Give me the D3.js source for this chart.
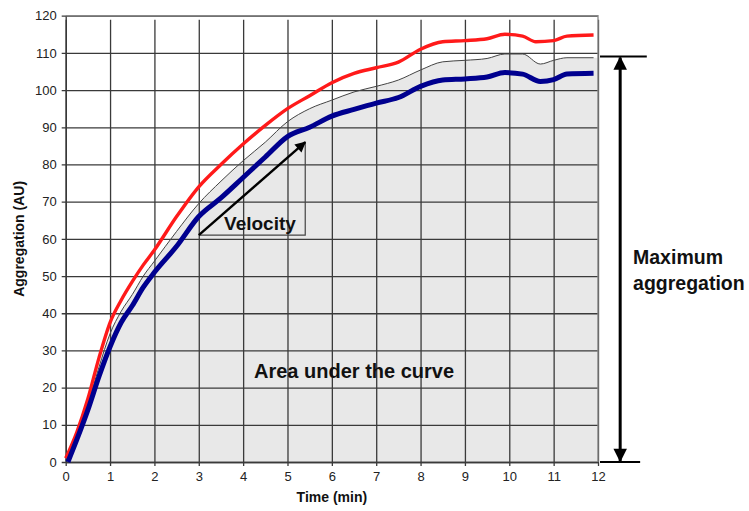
<!DOCTYPE html>
<html>
<head>
<meta charset="utf-8">
<script src="https://cdn.jsdelivr.net/npm/d3@7"></script>
<style>
  body { margin: 0; background: #fff; }
  text { font-family: "Liberation Sans", Arial, sans-serif; }
</style>
</head>
<body>
<div id="chart"></div>
<script>
// --- data (time in min, aggregation in AU) ---
const redTime = [0, 0.25, 0.5, 0.75, 1, 1.25, 1.5, 1.75, 2, 2.5, 3, 3.5, 4, 4.5, 5, 5.5, 6, 6.5, 7, 7.5, 8, 8.5, 9, 9.5, 9.9, 10.3, 10.6, 11, 11.3, 11.9];
const redAgg  = [1, 8, 17, 28, 37.5, 43.5, 48.5, 53, 57, 66, 74, 80, 85.5, 90.5, 95, 98.5, 102, 104.5, 106, 107.5, 111, 113, 113.3, 113.8, 115, 114.5, 113, 113.3, 114.5, 114.8];

const blueTime = [0.05, 0.25, 0.5, 0.75, 1, 1.25, 1.5, 1.75, 2, 2.5, 3, 3.5, 4, 4.5, 5, 5.5, 6, 6.5, 7, 7.5, 8, 8.5, 9, 9.5, 9.9, 10.3, 10.7, 11, 11.3, 11.9];
const blueAgg  = [0, 6, 14, 23, 31, 37.5, 42, 47, 51, 58, 66, 71, 76.5, 82, 87.5, 90, 93, 94.8, 96.5, 98, 101, 102.7, 103, 103.5, 104.7, 104.3, 102.3, 102.8, 104.3, 104.5];

const meanTime = [0, 0.25, 0.5, 0.75, 1, 1.25, 1.5, 1.75, 2, 2.5, 3, 3.5, 4, 4.5, 5, 5.5, 6, 6.5, 7, 7.5, 8, 8.5, 9, 9.5, 9.9, 10.3, 10.7, 11, 11.3, 11.9];
const meanAgg  = [0.5, 7, 15.5, 25.5, 34.5, 40.5, 45, 50, 54, 62, 69.5, 75.5, 81, 86, 91.5, 95, 97.3, 99.5, 101, 102.7, 105.4, 107.6, 108, 108.5, 109.7, 109.7, 107, 108, 108.7, 108.7];

const xTicks = [0, 1, 2, 3, 4, 5, 6, 7, 8, 9, 10, 11, 12];
const yTicks = [0, 10, 20, 30, 40, 50, 60, 70, 80, 90, 100, 110, 120];

const velocityStart = [3, 61];
const velocityEnd = [5.4, 86];
const maxAgg = 109;
const maxArrowTime = 12.5;

// --- layout ---
const width = 749, height = 511;
const margin = { left: 65.7, right: 151, top: 15.7, bottom: 49 };

const svg = d3.select("#chart").append("svg")
    .attr("width", width)
    .attr("height", height);

svg.append("rect").attr("width", width).attr("height", height).attr("fill", "#fff");

const x = d3.scaleLinear().domain([0, 12]).range([margin.left, width - margin.right]);
const y = d3.scaleLinear().domain([0, 120]).range([height - margin.bottom, margin.top]);

const toPts = (ts, vs) => ts.map((t, i) => [t, vs[i]]);
const red = toPts(redTime, redAgg);
const blue = toPts(blueTime, blueAgg);
const mean = toPts(meanTime, meanAgg);

// area under mean curve
const area = d3.area().curve(d3.curveMonotoneX).x(d => x(d[0])).y0(y(0)).y1(d => y(d[1]));
svg.append("path")
    .datum([...mean, [12, meanAgg[meanAgg.length - 1]]])
    .attr("d", area)
    .attr("fill", "#e8e8e8");

// grid via axes
const gx = svg.append("g")
    .attr("transform", `translate(0,${y(0)})`)
    .call(d3.axisBottom(x).tickValues(xTicks).tickSize(-(y(0) - y(120))).tickSizeOuter(0).tickPadding(10));
gx.selectAll(".tick line").attr("stroke", "#3a3a3a").attr("stroke-width", 1.3).attr("y2", 4 - (y(0) - y(120))).attr("y1", 4);
gx.select(".domain").attr("stroke", "#333").attr("stroke-width", 1.3);

const gy = svg.append("g")
    .attr("transform", `translate(${x(0)},0)`)
    .call(d3.axisLeft(y).tickValues(yTicks).tickSize(-(x(12) - x(0))).tickSizeOuter(0).tickPadding(9));
gy.selectAll(".tick line").attr("stroke", "#3a3a3a").attr("stroke-width", 1.3).attr("x1", -4);
gy.select(".domain").attr("stroke", "#333").attr("stroke-width", 1.3);

svg.selectAll(".tick text")
    .attr("font-family", "'Liberation Sans', Arial, sans-serif")
    .attr("font-size", 13)
    .attr("fill", "#222");

// outer plot border (top, right)
svg.append("path")
    .attr("d", `M${x(0)},${y(120)}H${x(12)}V${y(0)}`)
    .attr("fill", "none")
    .attr("stroke", "#888")
    .attr("stroke-width", 1.3);

// lines
const line = d3.line().curve(d3.curveMonotoneX).x(d => x(d[0])).y(d => y(d[1]));
svg.append("path").datum(mean).attr("d", line)
    .attr("fill", "none").attr("stroke", "#444").attr("stroke-width", 1);
svg.append("path").datum(red).attr("d", line)
    .attr("fill", "none").attr("stroke", "#ff1a1a").attr("stroke-width", 3.4).attr("stroke-linejoin", "round");
svg.append("path").datum(blue).attr("d", line)
    .attr("fill", "none").attr("stroke", "#00008f").attr("stroke-width", 5).attr("stroke-linejoin", "round");

// arrow markers
const defs = svg.append("defs");
defs.append("marker")
    .attr("id", "head")
    .attr("viewBox", "0 0 10 10")
    .attr("refX", 9).attr("refY", 5)
    .attr("markerWidth", 5).attr("markerHeight", 4.5)
    .attr("markerUnits", "strokeWidth")
    .attr("orient", "auto-start-reverse")
    .append("path").attr("d", "M0,0L10,5L0,10z").attr("fill", "#000");

// velocity triangle
svg.append("path")
    .attr("d", `M${x(velocityStart[0])},${y(velocityStart[1])}H${x(velocityEnd[0])}V${y(velocityEnd[1])}`)
    .attr("fill", "none").attr("stroke", "#444").attr("stroke-width", 1.2);
svg.append("line")
    .attr("x1", x(velocityStart[0])).attr("y1", y(velocityStart[1]))
    .attr("x2", x(velocityEnd[0])).attr("y2", y(velocityEnd[1]))
    .attr("stroke", "#000").attr("stroke-width", 2.4)
    .attr("marker-end", "url(#head)");
svg.append("text")
    .attr("x", x(3.57)).attr("y", y(62.5))
    .attr("font-size", 19).attr("font-weight", "bold").attr("fill", "#111")
    .text("Velocity");

// area label
svg.append("text")
    .attr("x", x(6.5)).attr("y", y(22.5))
    .attr("text-anchor", "middle")
    .attr("font-size", 20).attr("font-weight", "bold").attr("fill", "#111")
    .text("Area under the curve");

// maximum aggregation
svg.append("line")
    .attr("x1", x(12) + 2).attr("x2", x(13.1))
    .attr("y1", y(maxAgg)).attr("y2", y(maxAgg))
    .attr("stroke", "#000").attr("stroke-width", 2);
svg.append("line")
    .attr("x1", x(12) + 2).attr("x2", x(12.95))
    .attr("y1", y(0)).attr("y2", y(0))
    .attr("stroke", "#000").attr("stroke-width", 2);
svg.append("line")
    .attr("x1", x(maxArrowTime)).attr("x2", x(maxArrowTime))
    .attr("y1", y(maxAgg) + 1).attr("y2", y(0) - 1)
    .attr("stroke", "#000").attr("stroke-width", 3)
    .attr("marker-start", "url(#head)")
    .attr("marker-end", "url(#head)");
const maxLabel = svg.append("text")
    .attr("x", x(12.79)).attr("y", 264)
    .attr("font-size", 19.5).attr("font-weight", "bold").attr("fill", "#111");
maxLabel.append("tspan").text("Maximum");
maxLabel.append("tspan").attr("x", x(12.79)).attr("dy", 26).text("aggregation");

// axis titles
svg.append("text")
    .attr("x", x(6)).attr("y", 502)
    .attr("text-anchor", "middle")
    .attr("font-size", 14).attr("font-weight", "bold").attr("fill", "#111")
    .text("Time (min)");
svg.append("text")
    .attr("transform", `translate(24,${y(60)}) rotate(-90)`)
    .attr("text-anchor", "middle")
    .attr("font-size", 14).attr("font-weight", "bold").attr("fill", "#111")
    .text("Aggregation (AU)");
</script>
</body>
</html>
